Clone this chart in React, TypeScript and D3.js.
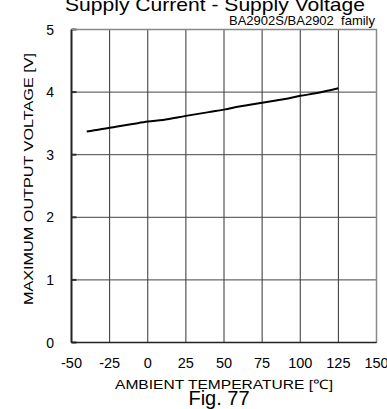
import React from "react";
import * as d3 from "d3";

const temps = [-40, -35, -30, -25, -20, -10, 0, 10, 25, 40, 50, 60, 75, 90, 100, 110, 125];
const volts = [3.37, 3.39, 3.41, 3.43, 3.45, 3.49, 3.53, 3.555, 3.62, 3.68, 3.72, 3.77, 3.83, 3.89, 3.94, 3.98, 4.06];
const xTicks = [-50, -25, 0, 25, 50, 75, 100, 125, 150];
const yTicks = [0, 1, 2, 3, 4, 5];

export default function App() {
  const x = d3.scaleLinear().domain([-50, 150]).range([71.5, 376.5]);
  const y = d3.scaleLinear().domain([0, 5]).range([342.5, 29.5]);
  const line = d3
    .line<number>()
    .x((_, i) => x(temps[i]))
    .y((d) => y(d))
    .curve(d3.curveMonotoneX);
  const font = "Arial, 'Liberation Sans', sans-serif";
  return (
    <svg
      width={387}
      height={409}
      style={{ position: "absolute", left: 0, top: 0, background: "#fff" }}
      fontFamily={font}
    >
      <text x={215} y={11} fontSize={19} textAnchor="middle" textLength={300} lengthAdjust="spacingAndGlyphs">
        Supply Current - Supply Voltage
      </text>
      <text x={375} y={25} fontSize={13} textAnchor="end" xmlSpace="preserve">
        BA2902S/BA2902  family
      </text>
      {xTicks.map((t) => (
        <line key={"vx" + t} x1={x(t)} x2={x(t)} y1={y(0)} y2={y(5)} stroke="#333" strokeWidth={1} />
      ))}
      {yTicks.map((t) => (
        <line key={"hy" + t} x1={x(-50)} x2={x(150)} y1={y(t)} y2={y(t)} stroke="#444" strokeWidth={1} />
      ))}
      {yTicks.map((t) => (
        <line key={"tk" + t} x1={x(-50)} x2={x(-50) + 5} y1={y(t)} y2={y(t)} stroke="#333" strokeWidth={2} />
      ))}
      <line x1={x(-50)} x2={x(-50)} y1={y(0)} y2={y(5)} stroke="#222" strokeWidth={2} />
      <line x1={x(150)} x2={x(150)} y1={y(0)} y2={y(5)} stroke="#888" strokeWidth={1.5} />
      <line x1={x(-50)} x2={x(150)} y1={y(5)} y2={y(5)} stroke="#888" strokeWidth={1.5} />
      <line x1={x(-50)} x2={x(150)} y1={y(0)} y2={y(0)} stroke="#222" strokeWidth={1.5} />
      <path d={line(volts) || ""} fill="none" stroke="#000" strokeWidth={2} />
      {yTicks.map((t) => (
        <text key={"yl" + t} x={54} y={y(t) + 5} fontSize={14} textAnchor="end">
          {t}
        </text>
      ))}
      {xTicks.map((t) => (
        <text key={"xl" + t} x={x(t)} y={368} fontSize={14.5} textAnchor="middle">
          {t}
        </text>
      ))}
      <text x={224} y={389} fontSize={13} textAnchor="middle" textLength={218} lengthAdjust="spacingAndGlyphs">
        AMBIENT TEMPERATURE [℃]
      </text>
      <text x={219} y={405} fontSize={20} textAnchor="middle">
        Fig. 77
      </text>
      <text
        transform={`translate(33,179) rotate(-90)`}
        fontSize={13}
        textAnchor="middle"
        textLength={252}
        lengthAdjust="spacingAndGlyphs"
      >
        MAXIMUM OUTPUT VOLTAGE [V]
      </text>
    </svg>
  );
}
